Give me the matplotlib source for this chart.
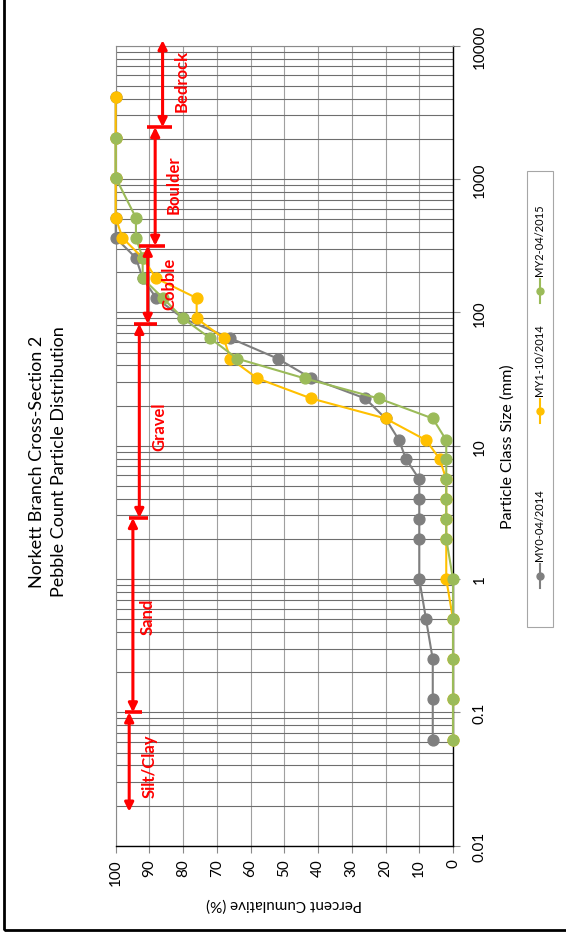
import numpy as np
import matplotlib.pyplot as plt
from matplotlib.lines import Line2D
from matplotlib.patches import Rectangle
from matplotlib.ticker import FixedLocator, FuncFormatter, NullFormatter

plt.rcParams['font.family'] = ['Lato', 'DejaVu Sans']

# particle class sizes (mm) and cumulative percent finer per survey
sizes = [0.062, 0.125, 0.25, 0.5, 1, 2, 2.8, 4, 5.6, 8, 11, 16, 22.6, 32, 45,
         64, 90, 128, 180, 256, 362, 512, 1024, 2048, 4096]
my0 = [6, 6, 6, 8, 10, 10, 10, 10, 10, 14, 16, 20, 26, 42, 52,
       66, 80, 88, 92, 94, 100, 100, 100, 100, 100]
my1 = [0, 0, 0, 0, 2, 2, 2, 2, 2, 4, 8, 20, 42, 58, 66,
       68, 76, 76, 88, 92, 98, 100, 100, 100, 100]
my2 = [0, 0, 0, 0, 0, 2, 2, 2, 2, 2, 2, 6, 22, 44, 64,
       72, 80, 86, 92, 92, 94, 94, 100, 100]
series_names = ['MY0-04/2014', 'MY1-10/2014', 'MY2-04/2015']
series_colors = ['#7F7F7F', '#FFC000', '#9BBB59']

# substrate classes (mm)
zone_names = ['Silt/Clay', 'Sand', 'Gravel', 'Cobble', 'Boulder', 'Bedrock']
zone_lo = [0.018, 0.1, 2.87, 82, 316, 2450]
zone_hi = [0.1, 2.87, 82, 316, 2450, 11000]

W, H = 566, 937
RED = '#FF0000'


def fx(x):
    return x / W


def fy(y):
    return 1 - y / H


fig = plt.figure(figsize=(W / 100, H / 100), dpi=100)
ax = fig.add_axes([fx(115.7), fy(846.7), fx(453) - fx(115.7), fy(46.7) - fy(846.7)])

ax.set_yscale('log')
ax.set_xlim(100, 0)
ax.set_ylim(0.01, 10000)

# gridlines
ax.set_xticks(np.arange(0, 101, 10))
ax.yaxis.set_major_locator(FixedLocator([0.01, 0.1, 1, 10, 100, 1000, 10000]))
minor = [m * 10.0 ** e for e in range(-2, 4) for m in range(2, 10)]
ax.yaxis.set_minor_locator(FixedLocator(minor))
ax.yaxis.set_minor_formatter(NullFormatter())
ax.yaxis.set_major_formatter(FuncFormatter(lambda v, p: f'{v:g}'))
ax.grid(True, which='both', axis='y', color='#6e6e6e', lw=0.8)
ax.grid(True, which='major', axis='x', color='#a0a0a0', lw=0.8)
ax.set_axisbelow(True)

for sp in ['left', 'top']:
    ax.spines[sp].set_color('#8a8a8a')
    ax.spines[sp].set_linewidth(0.8)
for sp in ['right', 'bottom']:
    ax.spines[sp].set_color('black')
    ax.spines[sp].set_linewidth(1.0)

ax.yaxis.tick_right()
ax.yaxis.set_label_position('right')
ax.tick_params(axis='y', which='major', direction='out', length=5, color='#8a8a8a',
               labelsize=11, labelrotation=90, pad=9)
ax.tick_params(axis='y', which='minor', length=0)
ax.tick_params(axis='x', direction='out', length=5, color='#8a8a8a',
               labelsize=11, labelrotation=90, pad=4)
for lab in ax.get_yticklabels():
    lab.set_va('center')
    lab.set_ha('left')

ax.set_ylabel('Particle Class Size (mm)', fontsize=11.5, rotation=90, labelpad=10)
ax.set_xlabel('Percent Cumulative (%)', fontsize=11, rotation=180, labelpad=8)

# survey curves
for vals, col in zip([my0, my1, my2], series_colors):
    ax.plot(vals, sizes[:len(vals)], color=col, lw=1.5, marker='o', ms=7.8,
            clip_on=False, zorder=3)

# substrate class arrows
arrow_x = [96.0, 94.9, 93.0, 90.5, 88.3, 86.1]
label_x = [89.8, 90.4, 87.1, 84.2, 82.7, 80.6]
label_y = [0.04, 0.53, 14, 165, 930, 5500]
for name, lo, hi, x, lx, ly in zip(zone_names, zone_lo, zone_hi, arrow_x, label_x, label_y):
    ax.annotate('', xy=(x, hi), xytext=(x, lo), annotation_clip=False,
                arrowprops=dict(arrowstyle='<|-|>', color=RED, lw=2.2,
                                mutation_scale=13, shrinkA=0, shrinkB=0), zorder=5)
    ax.text(lx, ly, name, color=RED, fontsize=12, fontweight='bold',
            rotation=90, ha='center', va='center', zorder=6)

# boundary bars
bar_at = [0.1, 2.87, 82, 316, 2450]
bar_from = [97.2, 96.0, 94.5, 93.1, 90.8]
bar_to = [92.3, 90.5, 87.8, 85.3, 83.3]
for b, x1, x2 in zip(bar_at, bar_from, bar_to):
    ax.plot([x1, x2], [b, b], color=RED, lw=2.6, solid_capstyle='butt',
            clip_on=False, zorder=5)

# title
fig.text(fx(37), fy(462), 'Norkett Branch Cross-Section 2', rotation=90,
         fontsize=13, ha='center', va='center')
fig.text(fx(59), fy(462), 'Pebble Count Particle Distribution', rotation=90,
         fontsize=13, ha='center', va='center')

# legend
fig.add_artist(Rectangle((fx(527), fy(628)), fx(553) - fx(527), fy(172) - fy(628),
                         transform=fig.transFigure, fill=False, ec='#a6a6a6', lw=0.8))
leg_y = [577, 412, 292]
for name, col, yc in zip(series_names, series_colors, leg_y):
    fig.add_artist(Line2D([fx(540), fx(540)], [fy(yc + 12), fy(yc - 12)],
                          transform=fig.transFigure, color=col, lw=1.5))
    fig.add_artist(Line2D([fx(540)], [fy(yc)], transform=fig.transFigure,
                          color=col, marker='o', ms=5))
    fig.text(fx(540), fy(yc - 16), name, rotation=90, fontsize=8,
             ha='center', va='bottom')

# chart border
fig.add_artist(Rectangle((fx(4), fy(931)), fx(575) - fx(4), fy(-5) - fy(931),
                         transform=fig.transFigure, fill=False, ec='black', lw=2))

fig.savefig('out.png', dpi=100)
